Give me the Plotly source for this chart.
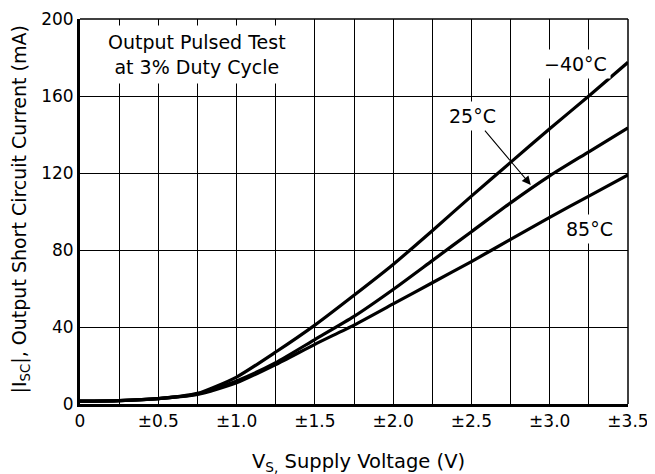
import plotly.graph_objects as go

# Supply voltage (±V)
voltage = [0, 0.25, 0.5, 0.75, 1.0, 1.25, 1.5, 1.75, 2.0, 2.25, 2.5, 2.75, 3.0, 3.25, 3.5]
# Output short circuit current (mA)
isc_m40 = [1.5, 1.8, 2.8, 5.5, 14, 27, 41, 56.5, 72.5, 90, 108, 125.5, 143, 160, 177.5]
isc_25 = [1.5, 1.8, 2.8, 5.2, 12, 21.5, 33.5, 45.5, 59.5, 74.5, 89.5, 104.5, 118.5, 131, 143.5]
isc_85 = [1.5, 1.8, 2.8, 5.0, 11, 20.5, 31, 41, 52, 63, 74, 85.5, 97, 108, 119]

x_tickvals = [0, 0.5, 1.0, 1.5, 2.0, 2.5, 3.0, 3.5]
x_ticktext = ["0", "±0.5", "±1.0", "±1.5", "±2.0", "±2.5", "±3.0", "±3.5"]
y_tickvals = [0, 40, 80, 120, 160, 200]

x_title = "V<sub>S,</sub> Supply Voltage (V)"
y_title = "|I<sub>SC</sub>|, Output Short Circuit Current (mA)"

FONT = "DejaVu Sans"

fig = go.Figure()
for ys, name in [(isc_m40, "−40°C"), (isc_25, "25°C"), (isc_85, "85°C")]:
    fig.add_trace(go.Scatter(x=voltage, y=ys, mode="lines", name=name,
                             line=dict(color="black", width=3.2, shape="spline", smoothing=0.6)))

fig.update_layout(
    width=647, height=466,
    margin=dict(l=72, r=27, t=11, b=70),
    paper_bgcolor="white", plot_bgcolor="white",
    showlegend=False,
    font=dict(family=FONT, color="black", size=17),
)
fig.update_xaxes(
    automargin=False,
    range=[0, 3.5], tickvals=x_tickvals, ticktext=x_ticktext,
    showgrid=True, gridcolor="black", gridwidth=1.2,
    minor=dict(dtick=0.25, tick0=0, showgrid=True, gridcolor="black", gridwidth=1.2, ticks=""),
    showline=True, linecolor="black", linewidth=3,
    ticks="", zeroline=False,
    tickfont=dict(family=FONT, size=17),
)
fig.update_yaxes(
    automargin=False,
    range=[0, 200], tickvals=y_tickvals,
    showgrid=True, gridcolor="black", gridwidth=1.2,
    showline=True, linecolor="black", linewidth=3,
    ticks="", zeroline=False,
    tickfont=dict(family=FONT, size=17),
)

# top and right frame (thin)
fig.add_shape(type="line", xref="paper", yref="paper", x0=0, x1=1, y0=1, y1=1,
              line=dict(color="black", width=1.5))
fig.add_shape(type="line", xref="paper", yref="paper", x0=1, x1=1, y0=0, y1=1,
              line=dict(color="black", width=1.5))

# axis titles
fig.add_annotation(xref="paper", yref="paper", x=0.5, y=-0.153, xshift=4,
                   xanchor="center", yanchor="middle", showarrow=False,
                   text=x_title, font=dict(family=FONT, size=19.5, color="black"))
fig.add_annotation(xref="paper", yref="paper", x=-0.108, y=0.505,
                   xanchor="center", yanchor="middle", showarrow=False, textangle=-90,
                   text=y_title, font=dict(family=FONT, size=19, color="black"))

ann_font = dict(family=FONT, size=19, color="black")
fig.add_annotation(x=0.75, y=181.5, text="Output Pulsed Test<br>at 3% Duty Cycle",
                   showarrow=False, bgcolor="white", borderpad=5, font=ann_font)
fig.add_annotation(x=3.164, y=176.5, text="−40°C", showarrow=False, bgcolor="white",
                   borderpad=3, font=ann_font)
fig.add_annotation(x=3.257, y=91, text="85°C", showarrow=False, bgcolor="white",
                   borderpad=3, font=ann_font)
# 25°C label with arrow pointing at the curve
fig.add_annotation(x=2.879, y=113.8, ax=2.508, ay=149.5, axref="x", ayref="y",
                   text="25°C", bgcolor="white", borderpad=3, font=ann_font,
                   showarrow=True, arrowhead=2, arrowsize=1.6, arrowwidth=1.1,
                   arrowcolor="black", standoff=0)

fig.write_html("out.html")
